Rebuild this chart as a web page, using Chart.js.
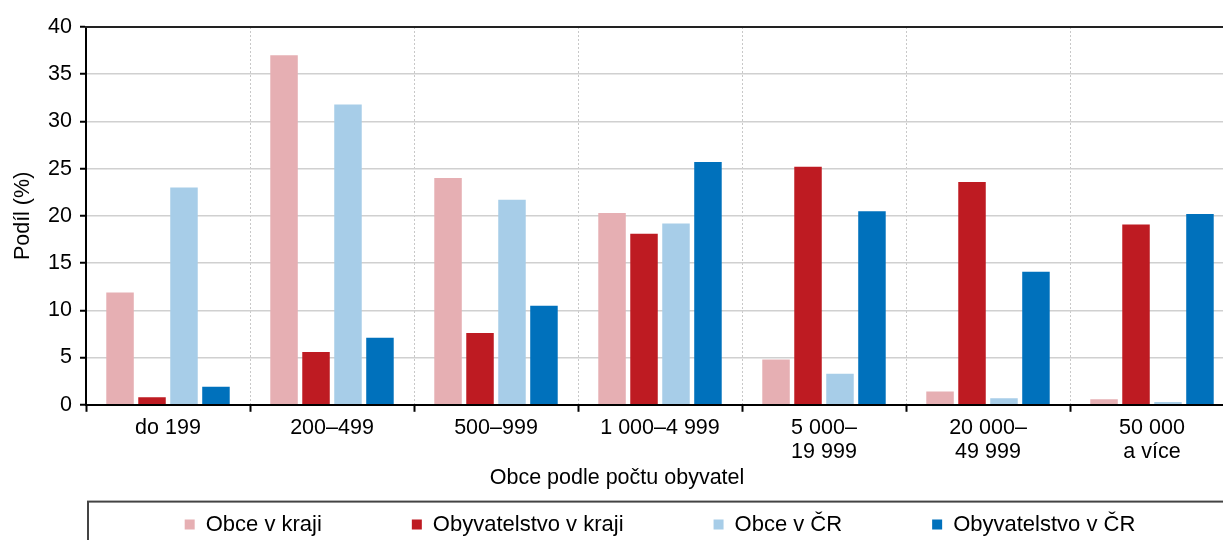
<!DOCTYPE html>
<html>
<head>
    <meta charset="utf-8">
    <title>Obce podle počtu obyvatel</title>
    <script src="https://cdn.jsdelivr.net/npm/chart.js"></script>
    <style>
        html, body { margin: 0; padding: 0; overflow: hidden; background: #fff; }
        #wrap { width: 1236px; height: 540px; }
    </style>
</head>
<body>
    <div id="wrap">
        <canvas id="podilChart"></canvas>
    </div>

    <script>
        const categories = ['do 199', '200–499', '500–999', '1 000–4 999', ['5 000–', '19 999'], ['20 000–', '49 999'], ['50 000', 'a více']];
        const obceKraj = [11.9, 37.0, 24.0, 20.3, 4.8, 1.4, 0.6];
        const obyvatelstvoKraj = [0.8, 5.6, 7.6, 18.1, 25.2, 23.6, 19.1];
        const obceCR = [23.0, 31.8, 21.7, 19.2, 3.3, 0.7, 0.3];
        const obyvatelstvoCR = [1.9, 7.1, 10.5, 25.7, 20.5, 14.1, 20.2];

        const font = '"Liberation Sans", Arial, sans-serif';
        Chart.defaults.font.family = font;
        Chart.defaults.font.size = 21.5;
        Chart.defaults.color = '#000';

        // top frame line + box round the legend, legend centred under plot
        const frame = {
            id: 'frame',
            afterLayout(chart) {
                const lg = chart.legend, ca = chart.chartArea;
                const pad = lg.options.labels.padding;
                lg.left = ca.left - 60;
                lg.right = ca.right + 60;
                lg.top = chart.titleBlock.bottom + 16 - pad;
            },
            afterDraw(chart) {
                const ctx = chart.ctx, ca = chart.chartArea;
                ctx.save();
                ctx.strokeStyle = '#222';
                ctx.lineWidth = 2;
                ctx.beginPath();
                ctx.moveTo(ca.left - 1, ca.top);
                ctx.lineTo(ca.right, ca.top);
                ctx.stroke();
                ctx.strokeStyle = '#444';
                ctx.strokeRect(ca.left + 2, chart.titleBlock.bottom + 4, chart.width, chart.height);
                ctx.restore();
            }
        };

        const ctx = document.getElementById('podilChart').getContext('2d');
        new Chart(ctx, {
            type: 'bar',
            data: {
                labels: categories,
                datasets: [
                    { label: 'Obce v kraji', data: obceKraj, backgroundColor: '#e6afb3' },
                    { label: 'Obyvatelstvo v kraji', data: obyvatelstvoKraj, backgroundColor: '#be1b22' },
                    { label: 'Obce v ČR', data: obceCR, backgroundColor: '#a7cde8' },
                    { label: 'Obyvatelstvo v ČR', data: obyvatelstvoCR, backgroundColor: '#0071bc' }
                ]
            },
            options: {
                responsive: true,
                maintainAspectRatio: false,
                animation: false,
                categoryPercentage: 0.78,
                barPercentage: 0.86,
                layout: { padding: { top: 27, right: 2, left: 0, bottom: 0 } },
                plugins: {
                    tooltip: { enabled: false },
                    title: {
                        display: true,
                        position: 'bottom',
                        weight: 500,
                        text: 'Obce podle počtu obyvatel',
                        color: '#000',
                        font: { size: 21.5, weight: 'normal', lineHeight: 1.2 },
                        padding: { top: 0, bottom: 7 }
                    },
                    legend: {
                        position: 'bottom',
                        maxHeight: 42.4,
                        labels: {
                            boxWidth: 10,
                            boxHeight: 10,
                            padding: 90,
                            font: { size: 22 }
                        }
                    }
                },
                scales: {
                    x: {
                        grid: {
                            color: '#c8c8c8',
                            lineWidth: 1,
                            tickColor: '#000',
                            tickWidth: 2,
                            tickLength: 7,
                            tickBorderDash: []
                        },
                        border: { color: '#000', width: 2, dash: [2, 2] },
                        ticks: {
                            padding: 4,
                            maxRotation: 0,
                            autoSkip: false,
                            font: { size: 21.5, lineHeight: 1.12 }
                        },
                        afterFit(scale) { scale.height = 60; }
                    },
                    y: {
                        min: 0,
                        max: 40,
                        grid: {
                            color: '#d0d0d0',
                            lineWidth: 1.5,
                            tickColor: '#000',
                            tickWidth: 2,
                            tickLength: 6
                        },
                        border: { color: '#000', width: 2 },
                        ticks: { stepSize: 5, padding: 8, font: { size: 21.5 } },
                        title: {
                            display: true,
                            text: 'Podíl (%)',
                            font: { size: 21.5 },
                            padding: { top: 10, bottom: 0 }
                        },
                        afterFit(scale) { scale.width = 86; }
                    }
                }
            },
            plugins: [frame]
        });
    </script>
</body>
</html>
